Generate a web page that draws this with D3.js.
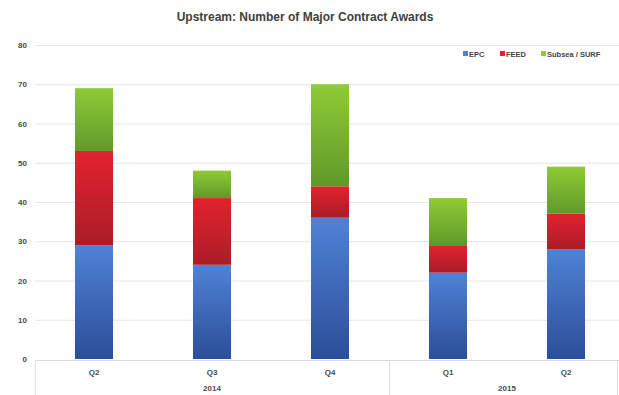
<!DOCTYPE html>
<html>
<head>
<meta charset="utf-8">
<script src="https://cdn.jsdelivr.net/npm/d3@7"></script>
<style>
  html, body { margin: 0; padding: 0; background: #fff; }
  svg { display: block; font-family: "Liberation Sans", Arial, sans-serif; }
</style>
</head>
<body>
<svg id="chart" width="619" height="395"></svg>
<script>
// Quarters and the year each belongs to
const quarters = ["Q2", "Q3", "Q4", "Q1", "Q2"];
const years = ["2014", "2014", "2014", "2015", "2015"];
const yearGroups = ["2014", "2015"];

// Number of major contract awards per segment
const seriesNames = ["EPC", "FEED", "Subsea / SURF"];
const epc = [29, 24, 36, 22, 28];
const feed = [24, 17, 8, 7, 9];
const subsea = [16, 7, 26, 12, 12];

const yTicks = [0, 10, 20, 30, 40, 50, 60, 70, 80];

const svg = d3.select("#chart");
const W = 619, H = 395;
const plotLeft = 35, plotRight = 625, plotTop = 45, plotBottom = 359;

// Gradient fills for the three series
const palette = [
  { hi: "#4f82d6", lo: "#2c4e98" },
  { hi: "#e3222f", lo: "#a91d27" },
  { hi: "#8fcb35", lo: "#5f9a2a" }
];
const defs = svg.append("defs");
palette.forEach((c, i) => {
  const g = defs.append("linearGradient")
    .attr("id", "grad" + i)
    .attr("x1", 0).attr("y1", 0).attr("x2", 0).attr("y2", 1);
  g.append("stop").attr("offset", "0%").attr("stop-color", c.hi);
  g.append("stop").attr("offset", "100%").attr("stop-color", c.lo);
});

const x = d3.scaleBand().domain(d3.range(quarters.length)).range([plotLeft, plotRight]).paddingInner(0.678).paddingOuter(0.339);
const y = d3.scaleLinear().domain([0, 80]).range([plotBottom, plotTop]);

// Title
svg.append("text")
  .attr("x", 305).attr("y", 21)
  .attr("text-anchor", "middle")
  .attr("font-size", 12).attr("font-weight", "bold").attr("fill", "#404040")
  .text("Upstream: Number of Major Contract Awards");

// Gridlines
svg.append("g").selectAll("line").data(yTicks.slice(1)).join("line")
  .attr("x1", plotLeft).attr("x2", W)
  .attr("y1", d => y(d) + 0.5).attr("y2", d => y(d) + 0.5)
  .attr("stroke", "#e6e6e6").attr("stroke-width", 1);

// Y axis labels
const yAxis = d3.axisLeft(y).tickValues(yTicks).tickSize(0).tickPadding(0);
const yG = svg.append("g").attr("transform", `translate(27,0)`).call(yAxis);
yG.select(".domain").remove();
yG.selectAll("text").attr("font-size", 8).attr("font-weight", "bold").attr("fill", "#4a4a4a")
  .attr("font-family", "Liberation Sans, Arial, sans-serif");

// Stacked bars
const rows = quarters.map((q, i) => ({ i, EPC: epc[i], FEED: feed[i], "Subsea / SURF": subsea[i] }));
const stack = d3.stack().keys(seriesNames)(rows);
svg.append("g").selectAll("g").data(stack).join("g")
  .attr("fill", (d, i) => `url(#grad${i})`)
  .selectAll("rect").data(d => d).join("rect")
  .attr("x", d => x(d.data.i))
  .attr("width", x.bandwidth())
  .attr("y", d => y(d[1]))
  .attr("height", d => y(d[0]) - y(d[1]));

// Category axis: baseline, quarter labels, year labels, group separators
svg.append("line")
  .attr("x1", plotLeft).attr("x2", W).attr("y1", plotBottom + 1.5).attr("y2", plotBottom + 1.5)
  .attr("stroke", "#d9d9d9");

const xAxis = d3.axisBottom(x).tickFormat(i => quarters[i]).tickSize(0).tickPadding(9);
const xG = svg.append("g").attr("transform", `translate(0,${plotBottom + 1})`).call(xAxis);
xG.select(".domain").remove();
xG.selectAll("text").attr("font-size", 8).attr("font-weight", "bold").attr("fill", "#4a4a4a")
  .attr("font-family", "Liberation Sans, Arial, sans-serif");

const step = x.step();
const groupBounds = yearGroups.map(yr => {
  const idx = years.map((v, i) => v === yr ? i : -1).filter(i => i >= 0);
  return { yr, x0: x(idx[0]) - x.paddingInner() * step / 2, x1: x(idx[idx.length - 1]) + x.bandwidth() + x.paddingInner() * step / 2 };
});
svg.append("g").selectAll("text").data(groupBounds).join("text")
  .attr("x", d => (d.x0 + d.x1) / 2).attr("y", 391)
  .attr("text-anchor", "middle").attr("font-size", 8).attr("font-weight", "bold").attr("fill", "#4a4a4a")
  .text(d => d.yr);
const seps = [groupBounds[0].x0, groupBounds[0].x1, 617];
svg.append("g").selectAll("line").data(seps).join("line")
  .attr("x1", d => Math.round(d) + 0.5).attr("x2", d => Math.round(d) + 0.5)
  .attr("y1", plotBottom + 1).attr("y2", H)
  .attr("stroke", "#e0e0e0");

// Legend
const legendX = [463, 500, 541];
const lg = svg.append("g").selectAll("g").data(seriesNames).join("g")
  .attr("transform", (d, i) => `translate(${legendX[i]},55)`);
lg.append("rect").attr("x", 0).attr("y", -4).attr("width", 5).attr("height", 5)
  .attr("fill", (d, i) => palette[i].hi);
lg.append("text").attr("x", 6).attr("y", 2).attr("font-size", 7.5).attr("font-weight", "bold").attr("fill", "#444")
  .text(d => d);
</script>
</body>
</html>
